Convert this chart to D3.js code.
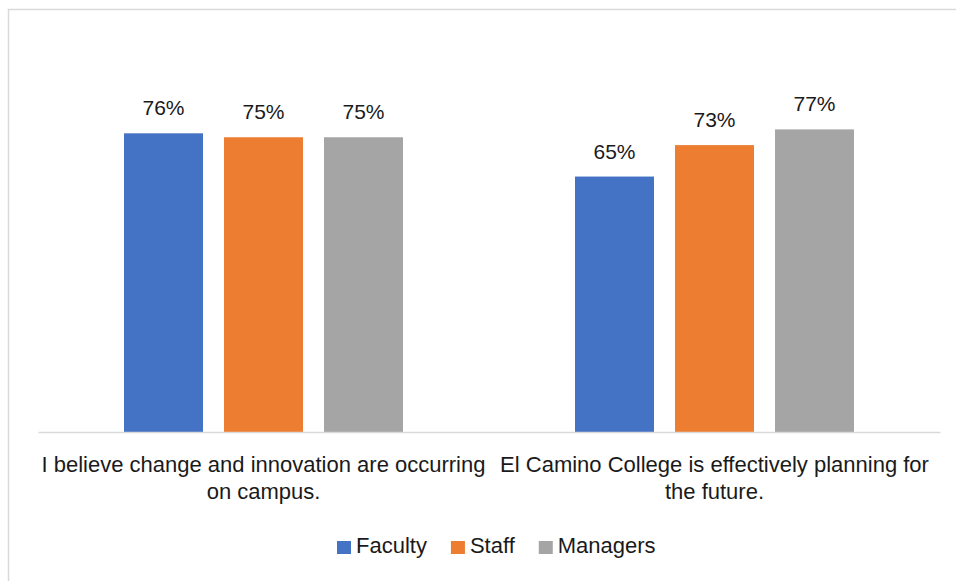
<!DOCTYPE html>
<html>
<head>
<meta charset="utf-8">
<script src="https://cdn.jsdelivr.net/npm/d3@7"></script>
<style>
  html, body { margin: 0; padding: 0; background: #fff; }
  svg { display: block; font-family: "Liberation Sans", Arial, sans-serif; }
</style>
</head>
<body>
<svg id="chart" width="956" height="581"></svg>
<script>
// ── data ──
var categories = [
  'I believe change and innovation are occurring on campus.',
  'El Camino College is effectively planning for the future.'
];
var series = ['Faculty', 'Staff', 'Managers'];
var faculty = [76, 65];
var staff = [75, 73];
var managers = [75, 77];
var colors = ['#4472C4', '#ED7D31', '#A5A5A5'];

(function () {
  'use strict';
  var svg = d3.select('#chart');
  var W = 956, H = 581;
  var plot = { left: 38, right: 940, top: 39, bottom: 432 };
  var values = [faculty, staff, managers];
  var groupW = 279;

  // chart frame (cropped: only left and top edges visible)
  svg.append('path')
    .attr('d', 'M8.5,' + H + 'V9.5H' + W)
    .attr('fill', 'none').attr('stroke', '#D9D9D9').attr('stroke-width', 1.5);

  var x0 = d3.scaleBand().domain(categories).range([plot.left, plot.right]);
  var x1 = d3.scaleBand().domain(series).range([0, groupW]).paddingInner(0.21).paddingOuter(0);
  var y = d3.scaleLinear().domain([0, 100]).range([plot.bottom, plot.top]);

  var groups = svg.append('g').selectAll('g').data(categories).join('g')
    .attr('transform', function (d) {
      return 'translate(' + (x0(d) + x0.bandwidth() / 2 - groupW / 2) + ',0)';
    });

  groups.selectAll('rect').data(function (d, ci) {
    return series.map(function (s, si) { return { s: s, si: si, v: values[si][ci] }; });
  }).join('rect')
    .attr('x', function (d) { return x1(d.s); })
    .attr('width', x1.bandwidth())
    .attr('y', function (d) { return y(d.v); })
    .attr('height', function (d) { return plot.bottom - y(d.v); })
    .attr('fill', function (d) { return colors[d.si]; });

  groups.selectAll('text.val').data(function (d, ci) {
    return series.map(function (s, si) { return { s: s, v: values[si][ci] }; });
  }).join('text')
    .attr('class', 'val')
    .attr('x', function (d) { return x1(d.s) + x1.bandwidth() / 2; })
    .attr('y', function (d) { return y(d.v) - 18; })
    .attr('text-anchor', 'middle')
    .attr('font-size', 21)
    .attr('fill', '#1a1a1a')
    .text(function (d) { return d.v + '%'; });

  // category axis
  var axis = svg.append('g').attr('transform', 'translate(0,' + plot.bottom + ')')
    .call(d3.axisBottom(x0).tickSize(0).tickPadding(0));
  axis.select('.domain').attr('stroke', '#D9D9D9').attr('stroke-width', 1.5);
  axis.selectAll('.tick text')
    .attr('font-size', 22).attr('fill', '#1a1a1a')
    .attr('font-family', '"Liberation Sans", Arial, sans-serif')
    .each(function (d) {
      var t = d3.select(this), words = d.split(' '), lines = [], line = [];
      t.text(null);
      var probe = t.append('tspan');
      words.forEach(function (w) {
        line.push(w);
        probe.text(line.join(' '));
        if (probe.node().getComputedTextLength() > x0.bandwidth() && line.length > 1) {
          line.pop(); lines.push(line.join(' ')); line = [w];
        }
      });
      lines.push(line.join(' '));
      probe.remove();
      lines.forEach(function (l, i) {
        t.append('tspan').attr('x', 0).attr('y', 40 + i * 27).attr('dy', 0).text(l);
      });
    });

  // legend
  var legend = svg.append('g').attr('transform', 'translate(0,553)');
  var lx = 337;
  series.forEach(function (s, i) {
    legend.append('rect').attr('x', lx).attr('y', -12).attr('width', 14).attr('height', 13)
      .attr('fill', colors[i]);
    var txt = legend.append('text').attr('x', lx + 19).attr('y', 0)
      .attr('font-size', 22).attr('fill', '#1a1a1a').text(s);
    lx += 19 + txt.node().getComputedTextLength() + 24;
  });
})();
</script>
</body>
</html>
